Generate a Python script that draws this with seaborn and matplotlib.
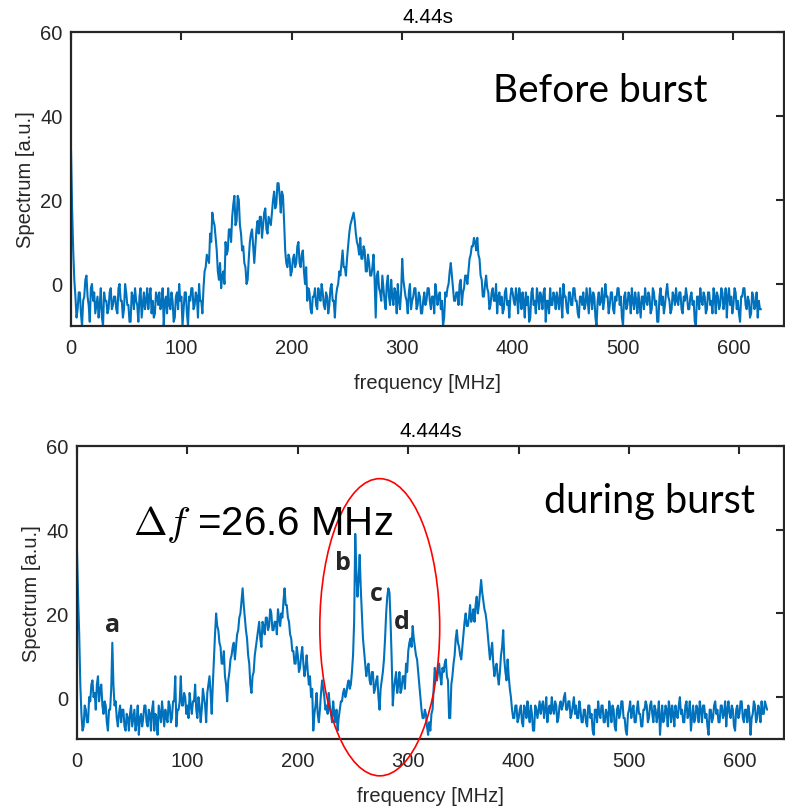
import numpy as np
import pandas as pd
import matplotlib
matplotlib.use("Agg")
import matplotlib.pyplot as plt
from matplotlib.patches import Ellipse
import seaborn as sns

# ---------------- data (spectrum values, 1 MHz spacing, 0 .. 625 MHz) ----------------
FREQ_STEP = 1.0

before_burst = [
    32, 18, 8, 1, -3, -8, -6, -2, -2, -7, -10, -4, -3, 1, 2, -3, -5, -9, -1, 0,
    -4, -2, -7, -5, -3, -8, -5, -1, -8, -10, -2, -4, -4, -7, -6, -2, -1, -6, -5, -3,
    -3, -6, -7, -1, 0, -4, -4, -8, -6, 0, -2, -5, -5, -9, -9, -2, -3, -6, -1, -4,
    -5, -9, -3, -1, -8, -5, -2, -6, -4, -1, -6, -3, -1, -7, -4, -8, -7, -2, -3, -5,
    -2, -6, -5, -1, -10, -4, -3, -7, -1, -5, -6, -2, -4, -9, -8, -3, -2, -6, 0, -4,
    -3, -10, -6, -2, -2, -7, -10, -3, -4, -1, -1, -6, -5, -2, -3, -8, 0, -4, -4, -7,
    -1, 3, 4, 7, 6, 5, 12, 10, 17, 15, 14, 11, 8, 3, 1, 5, -1, 2, 3, 0,
    10, 7, 8, 13, 13, 10, 16, 19, 21, 14, 15, 21, 20, 14, 12, 8, 9, 5, 4, 0,
    1, 6, 10, 12, 13, 9, 5, 9, 13, 15, 12, 16, 16, 11, 14, 17, 18, 13, 12, 16,
    15, 14, 17, 20, 22, 18, 19, 24, 24, 21, 17, 22, 21, 15, 8, 5, 4, 7, 6, 2,
    3, 6, 7, 4, 5, 9, 10, 5, 4, 7, 8, 3, 0, 4, -4, -1, -2, -6, -7, -3,
    -3, -1, -5, -6, -1, -3, -4, 0, -2, -5, -6, -2, -3, -7, -5, -1, 0, -4, -4, -8,
    -3, -1, 0, 3, 2, 5, 8, 4, 4, 2, 6, 9, 12, 14, 15, 16, 17, 15, 12, 10,
    9, 7, 11, 6, 6, 9, 8, 3, 3, 7, 5, 2, 2, 4, 7, 1, -8, 2, 3, -1,
    -2, -4, 2, -1, -4, -6, 0, 2, -3, -5, 1, -3, -5, -1, -2, -7, 0, -4, -6, -2,
    6, 1, -1, -3, -4, -7, -2, 0, -6, -4, -3, -1, -1, -6, -5, -2, -3, -7, -7, -4,
    -2, -5, -4, -1, -1, -4, -6, -3, -3, -7, 0, -2, -5, -3, -2, -6, -4, -10, -8, -2,
    -3, -1, 0, 3, 5, 2, -1, -4, -4, -2, -2, -5, 0, 1, -5, -2, -1, 2, 2, 0,
    3, 6, 7, 9, 9, 11, 10, 8, 11, 7, 6, 2, 1, -3, -3, 0, 2, -1, -2, -6,
    -5, -2, -1, -4, -4, 0, -7, -3, -2, -5, -3, -7, -6, -2, -1, -5, -4, -8, -3, -1,
    -2, -4, -5, -1, -3, -7, -1, -3, -6, -2, -4, -8, -2, -5, -3, -9, -8, -2, -1, -5,
    -4, -7, -1, -3, -6, -2, -3, -6, -2, -1, -9, -4, -4, -7, -1, -5, -5, -2, -3, -6,
    -2, -4, -6, -1, -4, -8, 0, -3, -3, -6, -7, -2, -2, -5, -5, -1, -1, -4, -4, -7,
    -8, -3, -3, -5, -2, -6, -5, -1, -4, -7, -1, -3, -6, -2, -3, -8, -10, -4, -2, -5,
    -4, -1, -6, -4, 0, -3, -3, -7, -5, -2, -2, -6, -7, -3, -4, -1, -1, -5, -3, -8,
    -10, -3, -2, -6, -5, -2, -3, -7, -1, -4, -6, -2, -4, -7, -2, -5, -8, -3, -3, -6,
    -1, -4, -5, -2, -3, -7, -6, -1, -2, -5, -4, -9, -9, -3, -1, -5, -3, -7, -5, -2,
    0, -3, -4, -7, -6, -2, -3, -5, -1, -4, -5, -2, -2, -6, -7, -3, -4, -1, -3, -6,
    -6, -3, -2, -5, -4, -9, -10, -3, -3, -6, -1, -4, -5, -2, -3, -7, -6, -2, -2, -5,
    -4, -7, -1, -3, -7, -2, -3, -6, -5, -1, -2, -6, -4, -1, -8, -3, -1, -5, -3, -7,
    -5, -1, -2, -6, -4, -7, -9, -3, -3, -1, -1, -5, -6, -3, -4, -8, -7, -2, -3, -6,
    -5, -2, -8, -4, -6, -6,
]

during_burst = [
    35, 24, 15, 3, -4, -8, -7, -2, -3, -6, -6, 0, -1, 3, 4, 0, 1, -3, 3, 5,
    -1, 2, 3, -2, -4, -1, -2, -6, -8, -3, -3, 2, 13, 3, -2, -1, -5, -7, -4, -2,
    -6, -3, -3, -7, -8, -4, -5, -8, -4, -2, -7, -5, -3, -8, -6, -2, -9, -5, -4, -7,
    -5, -2, -2, -6, -7, -3, -4, -8, -3, -1, -8, -4, -5, -9, -2, -4, -6, -1, -4, -7,
    -3, -5, -6, -1, -2, -6, -5, -1, -1, 5, -7, -3, -3, -1, 5, -2, -2, 1, 0, -4,
    -2, -5, 1, -2, -4, -1, -1, 3, -3, -5, 0, -2, -6, -3, 2, 0, -2, -6, 1, 3,
    5, 1, -4, 3, 9, 15, 20, 17, 16, 13, 12, 8, 8, 11, 5, 3, -1, 4, 6, 9,
    10, 12, 13, 9, 12, 15, 16, 19, 20, 23, 26, 22, 19, 16, 14, 10, 8, 3, 1, 5,
    6, 10, 12, 14, 16, 18, 14, 12, 18, 17, 15, 19, 19, 16, 17, 21, 20, 16, 16, 18,
    18, 15, 21, 19, 17, 20, 19, 23, 26, 22, 22, 19, 18, 15, 14, 11, 11, 8, 8, 12,
    10, 6, 7, 10, 12, 8, 5, 7, 10, 6, 3, 5, 0, 2, -8, -4, -2, 1, -4, -6,
    -3, 1, 4, 2, 0, -3, -2, -4, 1, -2, -4, -6, -1, -4, -6, -3, -8, -5, -3, -1,
    -1, 1, 2, 0, 1, 3, 4, 2, 3, 6, 10, 18, 39, 30, 24, 28, 34, 26, 20, 14,
    11, 8, 5, 7, 8, 4, 3, 6, 6, 1, 2, 4, 5, 0, -3, 2, 4, 6, 9, 14,
    20, 24, 26, 25, 18, 9, -2, 2, 4, 6, 1, 3, 6, 1, 2, 5, 5, 2, 8, 6,
    11, 13, 14, 12, 17, 14, 12, 10, 9, 6, 3, 0, -3, -5, -5, -3, -4, -7, -9, -6,
    -8, -4, -3, 2, 7, 5, 4, 6, 8, 5, 3, 7, 6, 8, 9, 5, 4, -5, -5, 3,
    5, 8, 10, 14, 16, 13, 12, 10, 9, 12, 15, 18, 20, 17, 17, 19, 22, 18, 19, 21,
    18, 22, 24, 20, 22, 25, 28, 25, 23, 21, 20, 18, 15, 12, 9, 11, 13, 8, 5, 7,
    8, 5, 3, 6, 10, 12, 16, 9, 6, 4, 9, 5, 2, 0, -3, -5, -5, -2, -2, -6,
    -5, -3, -2, -6, -7, -2, -3, -5, -1, -4, -6, -2, -4, -8, -8, -2, -3, -5, -3, -1,
    -4, -2, -1, -5, -3, 0, -6, -3, -2, -4, 0, -3, -4, -1, -2, -6, -5, -2, -1, -3,
    -2, 0, 1, -3, -3, -1, -1, -5, -4, -2, 0, -4, -2, -5, -5, -1, -3, -6, -6, -3,
    -3, -6, -7, -2, -2, -5, -4, -8, -9, -3, -3, -6, -1, -4, -5, -2, -2, -6, -6, -3,
    -4, -7, -1, -3, -6, -2, -3, -7, -8, -3, -2, -5, -4, -1, -1, -5, -5, -8, -9, -4,
    -3, -1, -5, -3, -2, -6, -6, -3, -1, -4, -4, -7, -7, -3, -3, -1, -2, -6, -5, -2,
    -1, -4, -6, -2, -3, -6, -4, -1, -9, -5, -2, -6, -5, -2, -3, -7, -1, -3, -6, -2,
    -4, -7, -2, -4, -5, -2, 0, -4, -3, -6, -6, -2, -1, -5, -4, -1, -8, -5, -2, -6,
    -5, -2, -3, -6, -1, -3, -6, -2, -2, -5, -4, -7, -9, -3, -3, -6, -5, -2, -1, -4,
    -3, -6, -6, -2, -2, -5, -4, -1, -7, -3, -1, -4, -5, -2, -3, -7, -8, -3, -2, -5,
    -4, -1, -1, -5, -6, -3, -3, -6, -2, -4, -9, -5, -4, -1, -2, -6, -5, -2, -3, -6,
    -1, -4, -4, -1, -2, -3,
]

titles = ["4.44s", "4.444s"]
x_ticks = [0, 100, 200, 300, 400, 500, 600]
y_ticks = [0, 20, 40, 60]
peak_labels = ["a", "b", "c", "d"]
peak_label_freq = [32.6, 240.5, 271.0, 294.5]
peak_label_y = [15.7, 30.7, 23.1, 16.4]

# ---------------- style ----------------
sns.set_style("white")
plt.rcParams["font.family"] = ["Liberation Sans", "DejaVu Sans"]
plt.rcParams["mathtext.fontset"] = "cm"

LINE_COLOR = "#0072BD"
TXT = "#262626"

fig = plt.figure(figsize=(7.85, 8.12), dpi=100)
ax1 = fig.add_axes([71 / 785, 1 - 327 / 812, 1 - 71 / 785 - 0.001, (327 - 33) / 812])
ax2 = fig.add_axes([77 / 785, 1 - 740 / 812, 1 - 77 / 785 - 0.001, (740 - 447) / 812])

for ax, vals, title, xmax in [(ax1, before_burst, titles[0], 646),
                              (ax2, during_burst, titles[1], 640.5)]:
    df = pd.DataFrame({"freq": np.arange(len(vals)) * FREQ_STEP, "spec": vals})
    sns.lineplot(data=df, x="freq", y="spec", ax=ax, color=LINE_COLOR,
                 linewidth=1.5, errorbar=None)
    ax.set_xlim(0, xmax)
    ax.set_ylim(-10, 60)
    ax.set_xticks(x_ticks)
    ax.set_yticks(y_ticks)
    ax.tick_params(direction="in", length=6, width=1.5, top=True, right=True,
                   labelsize=14.5, colors=TXT)
    ax.tick_params(axis="x", pad=9)
    ax.tick_params(axis="y", pad=6)
    for sp in ax.spines.values():
        sp.set_linewidth(1.6)
        sp.set_color(TXT)
    ax.set_xlabel("frequency [MHz]", fontsize=14.5, color=TXT, labelpad=11)
    ax.set_ylabel("Spectrum [a.u.]", fontsize=14.5, color=TXT, labelpad=4)
    ax.set_title(title, fontsize=15, color="black", pad=7.5)

# annotations
fig.text(493 / 785, 1 - 102 / 812, "Before burst", fontsize=28, family="Lato",
         color="black", va="baseline", ha="left")
fig.text(544 / 785, 1 - 513 / 812, "during burst", fontsize=28.5, family="Lato",
         color="black", va="baseline", ha="left")
fig.text(133 / 785, 1 - 535 / 812, r"$\Delta f$ =26.6 MHz", fontsize=29,
         color="black", va="baseline", ha="left")

for lab, fx, fy in zip(peak_labels, peak_label_freq, peak_label_y):
    ax2.text(fx, fy, lab, fontsize=18, fontweight="bold", family="Open Sans",
             color=TXT, ha="center", va="baseline")

ell = Ellipse((274.2, 16.7), width=108.6, height=71.0, fill=False,
              edgecolor="red", linewidth=1.2, clip_on=False, zorder=5)
ax2.add_patch(ell)

fig.savefig("out.png", dpi=100)
